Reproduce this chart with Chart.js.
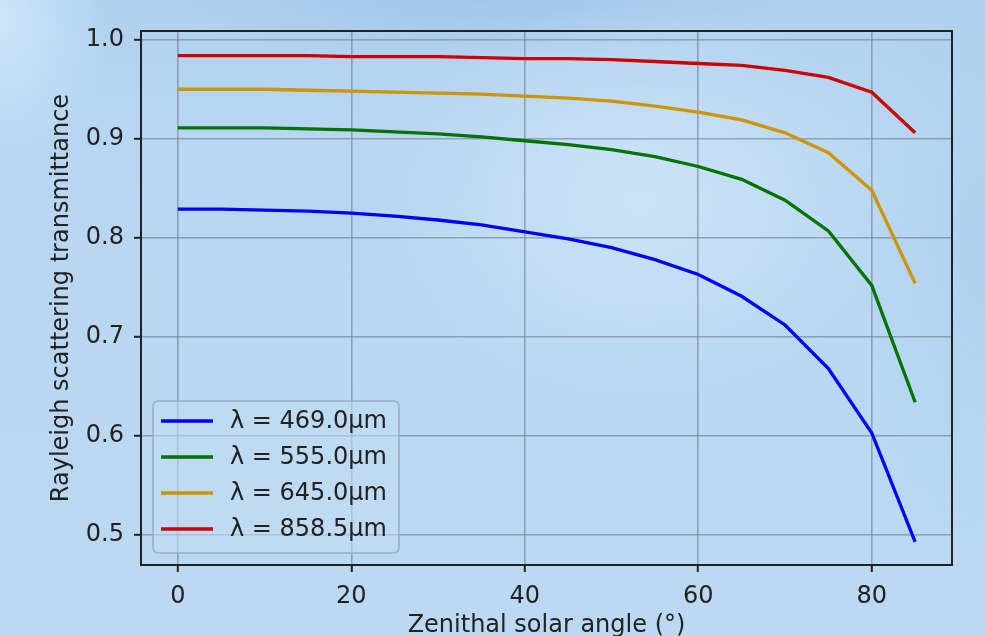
<!DOCTYPE html>
<html><head><meta charset="utf-8">
<script src="https://cdn.jsdelivr.net/npm/chart.js@4.4.1/dist/chart.umd.min.js"></script>
<style>
html,body{margin:0;padding:0;width:985px;height:636px;overflow:hidden;}
body{
 background:
  radial-gradient(ellipse 110px 140px at 0px 20px, rgba(210,234,253,0.85), rgba(210,234,253,0) 100%),
  radial-gradient(ellipse 260px 200px at 640px 200px, rgba(212,233,251,0.7), rgba(212,233,251,0) 100%),
  radial-gradient(ellipse 320px 60px at 480px 0px, rgba(150,192,232,0.6), rgba(150,192,232,0) 100%),
  radial-gradient(ellipse 120px 300px at 985px 250px, rgba(165,202,236,0.45), rgba(165,202,236,0) 100%),
  linear-gradient(180deg, #afd0ee 0px, #b8d6f1 120px, #bbd9f2 636px);
}
#wrap{position:absolute;left:0;top:0;width:985px;height:650px;}
</style></head><body>
<div id="wrap"><canvas id="c" width="985" height="650"></canvas></div>
<script>
const angles = [0,5,10,15,20,25,30,35,40,45,50,55,60,65,70,75,80,85];
const t469 = [0.829,0.829,0.828,0.827,0.825,0.822,0.818,0.813,0.806,0.799,0.790,0.778,0.763,0.741,0.712,0.668,0.603,0.493];
const t555 = [0.911,0.911,0.911,0.910,0.909,0.907,0.905,0.902,0.898,0.894,0.889,0.882,0.872,0.859,0.838,0.807,0.752,0.634];
const t645 = [0.950,0.950,0.950,0.949,0.948,0.947,0.946,0.945,0.943,0.941,0.938,0.933,0.927,0.919,0.906,0.886,0.848,0.754];
const t858 = [0.984,0.984,0.984,0.984,0.983,0.983,0.983,0.982,0.981,0.981,0.980,0.978,0.976,0.974,0.969,0.962,0.947,0.906];
const seriesLabels = ['λ = 469.0µm','λ = 555.0µm','λ = 645.0µm','λ = 858.5µm'];
const seriesColors = ['#0000ff','#007300','#cc9600','#cc0000'];
const xTicks = [0,20,40,60,80];
const yTicks = [0.5,0.6,0.7,0.8,0.9,1.0];
const xLabel = 'Zenithal solar angle (°)';
const yLabel = 'Rayleigh scattering transmittance';

const FONT = '"DejaVu Sans", sans-serif';
const TXT = '#222222';
const GRID = 'rgba(110,125,145,0.6)';

const series = [t469,t555,t645,t858];
const datasets = series.map((vals,i)=>({
  label: seriesLabels[i],
  data: angles.map((a,j)=>({x:a,y:vals[j]})),
  borderColor: seriesColors[i],
  backgroundColor: seriesColors[i],
  borderWidth: 3.3,
  pointRadius: 0,
  tension: 0,
  fill: false
}));

const framePlugin = {
  id:'frame',
  afterDatasetsDraw(chart){
    const {ctx, chartArea:a} = chart;
    ctx.save();
    ctx.strokeStyle = TXT; ctx.lineWidth = 2;
    ctx.strokeRect(a.left, a.top, a.right-a.left, a.bottom-a.top);
    ctx.restore();
  }
};

const legendPlugin = {
  id:'innerLegend',
  afterDraw(chart){
    const {ctx, chartArea:a} = chart;
    const ds = chart.data.datasets;
    ctx.save();
    ctx.font = '24px ' + FONT;
    const x0 = a.left + 12, w = 246, h = 152;
    const y0 = a.bottom - 12 - h;
    const r = 6;
    ctx.beginPath();
    ctx.moveTo(x0+r,y0); ctx.lineTo(x0+w-r,y0); ctx.quadraticCurveTo(x0+w,y0,x0+w,y0+r);
    ctx.lineTo(x0+w,y0+h-r); ctx.quadraticCurveTo(x0+w,y0+h,x0+w-r,y0+h);
    ctx.lineTo(x0+r,y0+h); ctx.quadraticCurveTo(x0,y0+h,x0,y0+h-r);
    ctx.lineTo(x0,y0+r); ctx.quadraticCurveTo(x0,y0,x0+r,y0);
    ctx.closePath();
    ctx.fillStyle = 'rgba(195,222,246,0.55)';
    ctx.fill();
    ctx.strokeStyle = 'rgba(150,170,190,0.7)';
    ctx.lineWidth = 2;
    ctx.stroke();
    ds.forEach((d,i)=>{
      const cy = y0 + 20 + i*36;
      ctx.strokeStyle = d.borderColor; ctx.lineWidth = 3.3;
      ctx.beginPath(); ctx.moveTo(x0+8,cy); ctx.lineTo(x0+60,cy); ctx.stroke();
      ctx.fillStyle = TXT; ctx.textBaseline = 'middle'; ctx.textAlign = 'left';
      ctx.fillText(d.label, x0+77, cy+1);
    });
    ctx.restore();
  }
};

new Chart(document.getElementById('c'), {
  type:'line',
  data:{datasets},
  options:{
    responsive:false,
    animation:false,
    devicePixelRatio:1,
    layout:{padding:{top:31,right:33,bottom:0,left:0}},
    plugins:{legend:{display:false}, tooltip:{enabled:false}},
    scales:{
      x:{
        type:'linear', min:-4.25, max:89.25,
        afterBuildTicks(s){ s.ticks = xTicks.map(v=>({value:v})); },
        afterFit(s){ s.height = 650-565; },
        ticks:{font:{family:FONT,size:24}, color:TXT, padding:10, maxRotation:0,
          callback:v=>String(v)},
        grid:{color:GRID, lineWidth:1.6, drawTicks:true, tickLength:7, tickColor:TXT, tickWidth:2},
        border:{display:true, color:TXT, width:2},
        title:{display:true, text:xLabel, font:{family:FONT,size:24}, color:TXT, padding:{top:0,bottom:9.6}}
      },
      y:{
        type:'linear', min:0.4697, max:1.0088,
        afterBuildTicks(s){ s.ticks = yTicks.map(v=>({value:v})); },
        afterFit(s){ s.width = 141; },
        ticks:{font:{family:FONT,size:24}, color:TXT, padding:10,
          callback:v=>Number(v).toFixed(1)},
        grid:{color:GRID, lineWidth:1.6, drawTicks:true, tickLength:7, tickColor:TXT, tickWidth:2},
        border:{display:true, color:TXT, width:2},
        title:{display:true, text:yLabel, font:{family:FONT,size:24}, color:TXT, padding:{top:47.6,bottom:0}}
      }
    }
  },
  plugins:[framePlugin, legendPlugin]
});
</script>
</body></html>
